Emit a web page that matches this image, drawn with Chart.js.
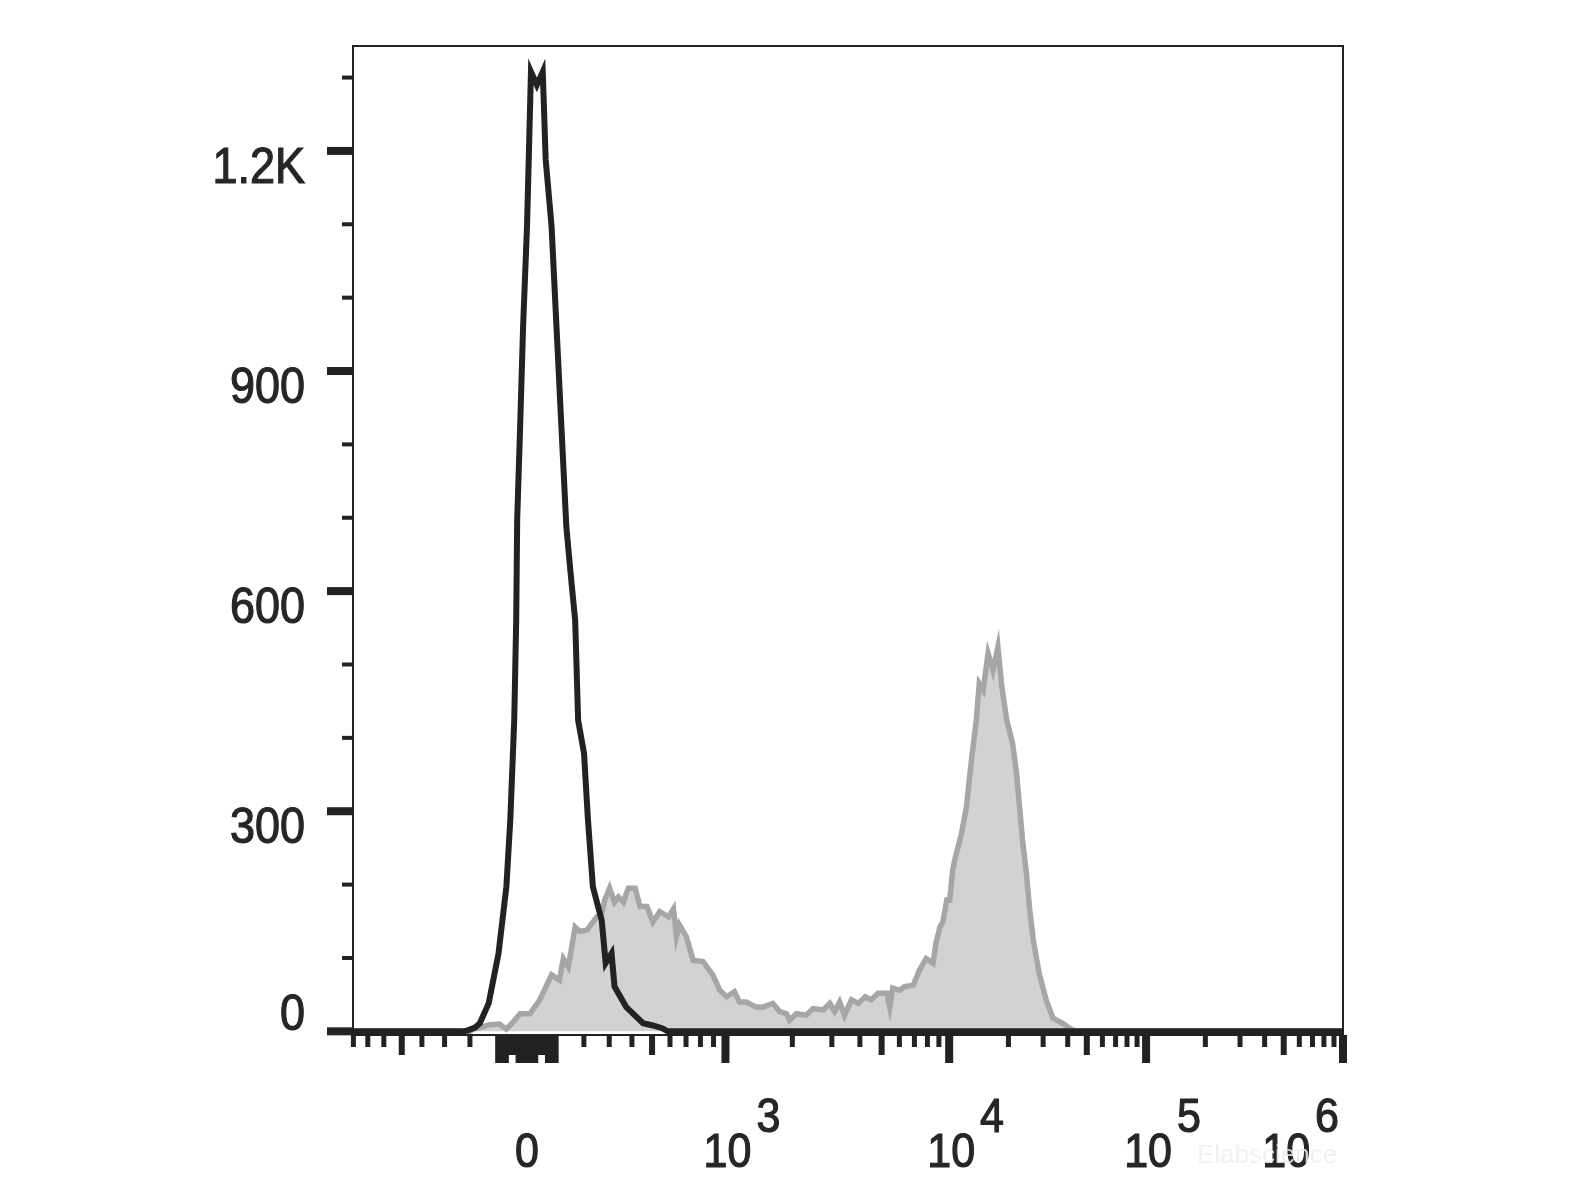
<!DOCTYPE html>
<html>
<head>
<meta charset="utf-8">
<script src="https://cdn.jsdelivr.net/npm/chart.js@4.4.1/dist/chart.umd.min.js"></script>
<style>
  html, body { margin: 0; padding: 0; background: #fff; }
  #wrap { width: 1592px; height: 1194px; }
</style>
</head>
<body>
<div id="wrap"><canvas id="histo" width="1592" height="1194"></canvas></div>
<script>
// histogram bins are in display channels (0..1007 across the biex axis)
const controlChannel = [0, 112, 116, 124, 129, 138, 148, 156, 160, 164, 166, 167, 170, 173, 177, 179, 181, 187, 193, 196, 202, 207, 212, 217, 221, 226, 229, 235, 239, 244, 253, 257, 263, 266, 278, 288, 295, 305, 315, 320, 1007];
const controlCount   = [0, 0, 1, 5, 11, 38, 106, 197, 288, 424, 560, 697, 824, 960, 1097, 1201, 1308, 1290, 1308, 1188, 1097, 960, 824, 688, 629, 560, 424, 379, 288, 197, 151, 93, 106, 61, 33, 20, 11, 8, 4, 0, 0];

const stainedChannel = [0, 119, 122, 129, 139, 149, 156, 163, 170, 180, 190, 202, 210, 214, 219, 226, 231, 238, 248, 253, 256, 261, 266, 270, 275, 280, 287, 292, 299, 305, 312, 321, 326, 329, 332, 339, 346, 356, 366, 373, 380, 388, 393, 400, 410, 417, 427, 434, 441, 444, 451, 461, 468, 478, 485, 490, 495, 500, 507, 514, 521, 527, 534, 543, 546, 549, 556, 561, 570, 576, 583, 590, 593, 597, 600, 604, 607, 610, 612, 619, 624, 629, 634, 637, 641, 646, 651, 656, 660, 665, 671, 675, 678, 681, 685, 688, 692, 698, 705, 712, 722, 729, 735, 1007];
const stainedCount   = [0, 0, 3, 5, 9, 10, 3, 13, 24, 24, 43, 77, 70, 99, 88, 142, 136, 138, 156, 161, 179, 195, 176, 183, 176, 195, 195, 170, 170, 149, 163, 156, 167, 129, 145, 129, 97, 95, 77, 56, 47, 54, 40, 40, 33, 33, 38, 27, 24, 15, 24, 22, 31, 29, 38, 27, 40, 22, 43, 38, 47, 43, 52, 52, 33, 59, 56, 61, 63, 83, 99, 93, 120, 142, 149, 179, 179, 220, 233, 270, 306, 369, 424, 474, 465, 515, 492, 524, 469, 424, 392, 351, 306, 261, 215, 170, 124, 79, 43, 18, 11, 4, 0, 0];

// y axis
const yMajorTicks  = [0, 300, 600, 900, 1200];
const yMajorLabels = ['0', '300', '600', '900', '1.2K'];
const yMinorTicks  = [100, 200, 400, 500, 700, 800, 1000, 1100, 1300];

// x axis (fluorescence values)
const xDecades      = [1e3, 1e4, 1e5, 1e6];
const xDecadeExp    = ['3', '4', '5', '6'];
const xMinorTicks   = [-800, -700, -600, -400, -300, -200, 200, 300, 400, 600, 700, 800, 900,
                       2000, 3000, 4000, 6000, 7000, 8000, 9000,
                       2e4, 3e4, 4e4, 6e4, 7e4, 8e4, 9e4,
                       2e5, 3e5, 4e5, 6e5, 7e5, 8e5, 9e5];
const xMediumTicks  = [-500, 500, 5000, 5e4, 5e5];
const xZeroCluster  = [-100, -90, -80, -70, -60, -50, -40, -30, -20, -10, 0, 10, 20, 30, 40, 50, 60, 70, 80, 90, 100];

const INK = '#222222';
const FONT = '"Liberation Sans", Arial, sans-serif';

// biex-like display transform: value -> channel
function toChannel(v) {
  const a = Math.abs(v);
  let c;
  if (a <= 1000) c = 126.06 * Math.asinh(a / 420);
  else if (a <= 1e4) c = 201.3 + 228.2 * Math.log10(a / 1000);
  else c = 429.5 + 200.3 * Math.log10(a / 1e4);
  return 176.9 + Math.sign(v) * c;
}

function drawText(ctx, text, x, baseline, align, size) {
  ctx.save();
  ctx.translate(x, baseline);
  ctx.scale(1, 1.1);
  ctx.font = size + 'px ' + FONT;
  ctx.textAlign = align;
  ctx.textBaseline = 'alphabetic';
  ctx.lineWidth = 1.1;
  ctx.strokeStyle = ctx.fillStyle;
  ctx.fillText(text, 0, 0);
  ctx.strokeText(text, 0, 0);
  ctx.restore();
}

const flowAxes = {
  id: 'flowAxes',
  afterDatasetsDraw(chart) {
    const { ctx, chartArea: a, scales: { x, y } } = chart;
    ctx.save();

    // frame
    ctx.strokeStyle = INK;
    ctx.lineWidth = 2;
    ctx.strokeRect(a.left, a.top, a.right - a.left, a.bottom - a.top);

    ctx.fillStyle = INK;
    // y ticks
    yMajorTicks.forEach(v => {
      const py = y.getPixelForValue(v);
      ctx.fillRect(a.left - 26, py - 4, 26, 8);
    });
    yMinorTicks.forEach(v => {
      const py = y.getPixelForValue(v);
      ctx.fillRect(a.left - 11, py - 2, 11, 4);
    });

    // x ticks
    const tick = (v, w, len) => {
      const px = x.getPixelForValue(toChannel(v));
      ctx.fillRect(px - w / 2, a.bottom, w, len);
    };
    xMinorTicks.forEach(v => tick(v, 5, 12));
    xMediumTicks.forEach(v => tick(v, 6, 20));
    xZeroCluster.forEach(v => {
      const m = Math.abs(v);
      tick(v, 5, (m >= 40 && m <= 60) ? 20 : 28);
    });
    xDecades.forEach(v => tick(v, 8, 28));

    // labels
    ctx.fillStyle = '#262626';
    const ySize = 45;
    yMajorTicks.forEach((v, i) => {
      const py = y.getPixelForValue(v);
      const base = v === 0 ? py - 1 : py + 32;
      drawText(ctx, yMajorLabels[i], 305, base, 'right', ySize);
    });

    const xSize = 43;
    ctx.font = xSize + 'px ' + FONT;
    const zx = x.getPixelForValue(toChannel(0));
    drawText(ctx, '0', zx, 1167, 'center', xSize);
    xDecades.forEach((v, i) => {
      const px = x.getPixelForValue(toChannel(v));
      const wBase = ctx.measureText('10').width;
      const wSup = ctx.measureText(xDecadeExp[i]).width;
      let left = px + 2 - wBase / 2;
      const total = wBase + 5 + wSup;
      if (left + total > a.right - 4) left = a.right - 4 - total;
      drawText(ctx, '10', left, 1167, 'left', xSize);
      drawText(ctx, xDecadeExp[i], left + wBase + 5, 1132, 'left', xSize);
    });

    // faint watermark
    ctx.fillStyle = 'rgba(238,238,238,0.85)';
    ctx.font = '26px ' + FONT;
    ctx.textAlign = 'left';
    ctx.fillText('Elabscience', 1197, 1163);

    ctx.restore();
  }
};

new Chart(document.getElementById('histo'), {
  type: 'line',
  data: {
    datasets: [
      {
        label: 'control',
        data: controlChannel.map((c, i) => ({ x: c, y: controlCount[i] })),
        borderColor: INK,
        borderWidth: 6,
        pointRadius: 0,
        tension: 0,
        fill: false,
        order: 0
      },
      {
        label: 'stained',
        data: stainedChannel.map((c, i) => ({ x: c, y: stainedCount[i] })),
        borderColor: '#a6a6a6',
        backgroundColor: '#d2d2d2',
        borderWidth: 5.5,
        pointRadius: 0,
        tension: 0,
        fill: 'origin',
        order: 1
      }
    ]
  },
  options: {
    responsive: false,
    animation: false,
    layout: { padding: { left: 353, right: 249, top: 46, bottom: 159 } },
    scales: {
      x: { type: 'linear', min: 0, max: 1007, display: false },
      y: { type: 'linear', min: -5, max: 1343, display: false }
    },
    plugins: { legend: { display: false }, tooltip: { enabled: false } }
  },
  plugins: [flowAxes]
});
</script>
</body>
</html>
